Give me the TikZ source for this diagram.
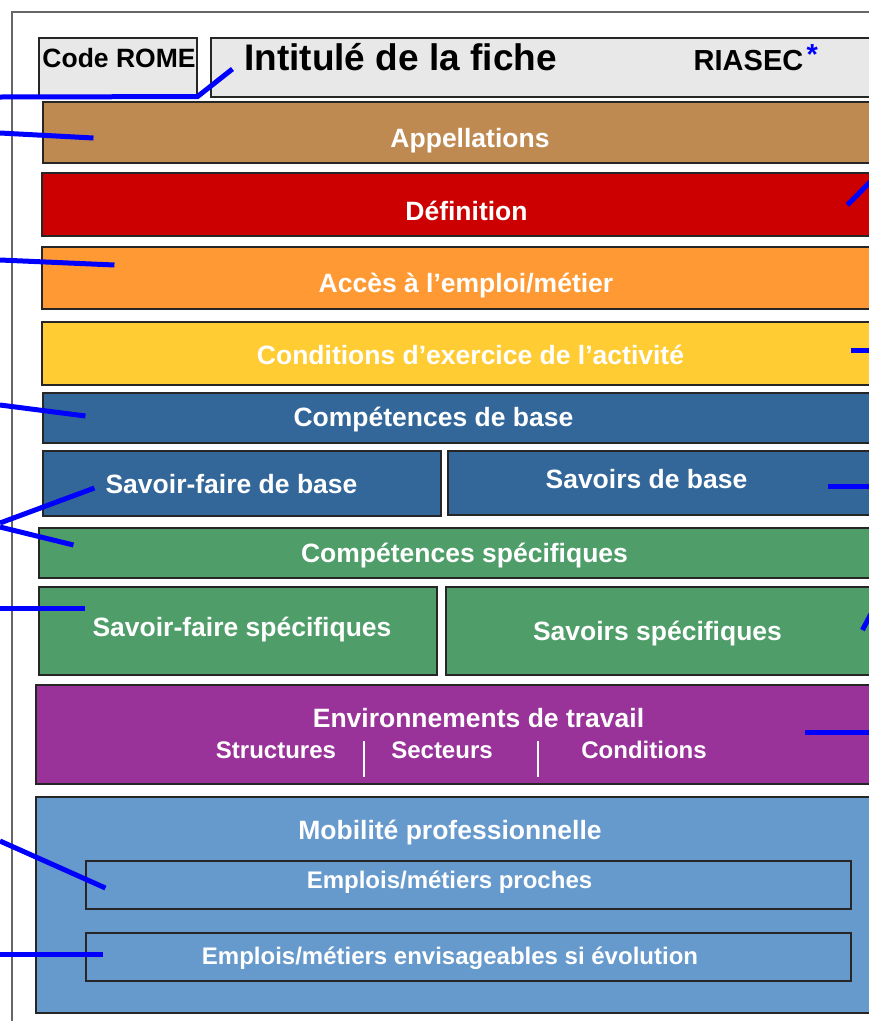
\documentclass[tikz,border=0pt]{standalone}
\usepackage{fontspec}
\setmainfont{Liberation Sans}
\usetikzlibrary{positioning,fit,calc}

\definecolor{fondgris}{RGB}{232,232,232}
\definecolor{coulappel}{RGB}{191,138,82}
\definecolor{couldefin}{RGB}{204,0,0}
\definecolor{coulacces}{RGB}{255,153,51}
\definecolor{coulcondi}{RGB}{255,204,51}
\definecolor{coulbase}{RGB}{51,102,153}
\definecolor{coulspec}{RGB}{79,157,105}
\definecolor{coulenvir}{RGB}{153,51,153}
\definecolor{coulmobil}{RGB}{102,153,204}

\tikzset{
  bloc/.style={draw=black!85, line width=1.1pt, inner sep=0pt},
  txt/.style={text=white, font=\bfseries\fontsize{26.5}{30}\selectfont,
    inner sep=0pt, text height=19pt, text depth=0pt},
  petit/.style={txt, font=\bfseries\fontsize{24}{28}\selectfont, text height=17.2pt},
  trait/.style={blue, line width=5pt},
}

\begin{document}
\begin{tikzpicture}[x=1pt,y=-1pt]
   \useasboundingbox (0,0) rectangle (869,1021);
   \clip (0,0) rectangle (869,1021);

   % frame
   \draw[black!60, line width=1.3pt] (12,1030) -- (12,12) -- (885,12);

   % header
   \node[bloc, fill=fondgris, fit={(39,38) (197,96)}]  (b0) {};
   \node[bloc, fill=fondgris, fit={(211,38) (885,97)}] (b1) {};
   \node[txt, text=black] (t0) at (119,57.5) {Code ROME};
   \node[txt, text=black, font=\bfseries\fontsize{37}{40}\selectfont, text height=26.5pt]
      (t1) at (400.5,57) {Intitulé de la fiche};
   \node[txt, text=black, font=\bfseries\fontsize{29}{32}\selectfont, text height=20.8pt]
      (t2) at (748.5,60.3) {RIASEC};
   \node[blue, font=\bfseries\fontsize{29}{32}\selectfont, inner sep=0pt,
      right=3pt of t2.north east, anchor=north west, yshift=5pt] (t3) {*};

   % bands
   \node[bloc, fill=coulappel, fit={(43,102) (885,163)}] (b2) {};
   \node[txt] at (470,137.5) {Appellations};

   \node[bloc, fill=couldefin, fit={(42,173) (885,236)}] (b3) {};
   \node[txt] at (466.5,210.5) {Définition};

   \node[bloc, fill=coulacces, fit={(42,247) (885,309)}] (b4) {};
   \node[txt] at (466,282.5) {Accès à l’emploi/métier};

   \node[bloc, fill=coulcondi, fit={(42,322) (885,385)}] (b5) {};
   \node[txt] at (470.5,355) {Conditions d’exercice de l’activité};

   % base skills
   \node[bloc, fill=coulbase, fit={(43,393) (885,443)}] (b6) {};
   \node[txt] at (433.5,416.7) {Compétences de base};
   \node[bloc, fill=coulbase, fit={(43,451) (441,516)}] (b7) {};
   \node[txt] at (231.5,484) {Savoir-faire de base};
   \node[bloc, fill=coulbase, fit={(448,451) (885,515)}] (b8) {};
   \node[txt] at (646.5,479) {Savoirs de base};

   % specific skills
   \node[bloc, fill=coulspec, fit={(39,528) (885,578)}] (b9) {};
   \node[txt] at (464.5,553) {Compétences spécifiques};
   \node[bloc, fill=coulspec, fit={(39,587) (437,675)}] (b10) {};
   \node[txt] at (242,627) {Savoir-faire spécifiques};
   \node[bloc, fill=coulspec, fit={(446,587) (885,675)}] (b11) {};
   \node[txt] at (657.5,631) {Savoirs spécifiques};

   % work environments
   \node[bloc, fill=coulenvir, fit={(36,685) (885,784)}] (b12) {};
   \node[txt] at (478.5,717.5) {Environnements de travail};
   \node[petit] (s0) at (276,750.3) {Structures};
   \node[petit] (s1) at (442,750.3) {Secteurs};
   \node[petit] (s2) at (644,750.3) {Conditions};
   \draw[white, line width=1.5pt] (364,741) -- (364,777);
   \draw[white, line width=1.5pt] (538,741) -- (538,777);

   % mobility
   \node[bloc, fill=coulmobil, fit={(36,797) (885,1013)}] (b13) {};
   \node[txt] at (450,830) {Mobilité professionnelle};
   \node[bloc, fill=coulmobil, fit={(86,861) (851,909)}] (b14) {};
   \node[petit] at (449.5,880.3) {Emplois/métiers proches};
   \node[bloc, fill=coulmobil, fit={(86,933) (851,981)}] (b15) {};
   \node[petit] at (450,955.5) {Emplois/métiers envisageables si évolution};

   % leader lines
   \coordinate (l0)  at (0,97);
   \coordinate (l1)  at (0,133);
   \coordinate (l2)  at (876,176);
   \coordinate (l3)  at (0,260);
   \coordinate (l4)  at (885,350);
   \coordinate (l5)  at (0,405);
   \coordinate (l6)  at (0,523);
   \coordinate (l7)  at (0,527);
   \coordinate (l8)  at (885,486);
   \coordinate (l9)  at (0,608);
   \coordinate (l10) at (872,612);
   \coordinate (l11) at (885,732);
   \coordinate (l12) at (0,841);
   \coordinate (l13) at (0,954);

   \draw[trait] (l0) -- (b0.south east) -- ([xshift=22pt,yshift=-1.5pt]b1.west);
   \draw[trait] (l1) -- ([xshift=51pt,yshift=-5.5pt]b2.west);
   \draw[trait] (l2) -- ([xshift=806pt,yshift=-0.5pt]b3.west);
   \draw[trait] (l3) -- ([xshift=73pt,yshift=13pt]b4.west);
   \draw[trait] (l4) -- ([xshift=810pt,yshift=3.5pt]b5.west);
   \draw[trait] (l5) -- ([xshift=43pt,yshift=2pt]b6.west);
   \draw[trait] (l6) -- ([xshift=52pt,yshift=-4.5pt]b7.west);
   \draw[trait] (l7) -- ([xshift=35pt,yshift=8pt]b9.west);
   \draw[trait] (l8) -- ([xshift=381pt,yshift=-3pt]b8.west);
   \draw[trait] (l9) -- ([xshift=47pt,yshift=23pt]b10.west);
   \draw[trait] (l10) -- ([xshift=417pt,yshift=1pt]b11.west);
   \draw[trait] (l11) -- ([xshift=770pt,yshift=2.5pt]b12.west);
   \draw[trait] (l12) -- ([xshift=20pt,yshift=-3pt]b14.west);
   \draw[trait] (l13) -- ([xshift=18pt,yshift=3pt]b15.west);
\end{tikzpicture}
\end{document}
